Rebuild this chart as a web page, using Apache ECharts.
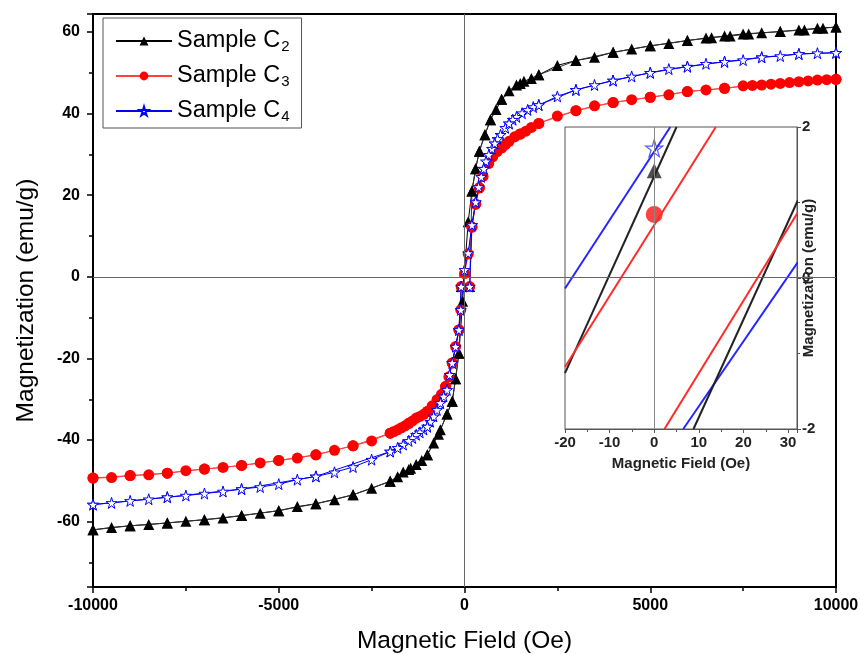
<!DOCTYPE html>
<html><head><meta charset="utf-8">
<script src="https://cdn.jsdelivr.net/npm/echarts@6/dist/echarts.min.js"></script>
<style>html,body{margin:0;padding:0;background:#fff}#c{width:860px;height:654px}</style>
</head><body><div id="c"></div><script>
// ---- main loop data: [field (Oe), magnetization (emu/g)] ----
var c2Down = [[10000,61.2],[9500,60.9],[9000,60.5],[8500,60.1],[8000,59.8],[7500,59.5],[7000,59.0],[6500,58.5],[6000,57.9],[5500,57.2],[5000,56.6],[4500,55.8],[4000,55.0],[3500,53.8],[3000,53.0],[2500,51.8],[2000,49.5],[1800,48.6],[1600,47.9],[1400,47.0],[1200,45.6],[1000,43.5],[850,41.0],[700,38.5],[550,34.8],[400,30.8],[300,26.5],[200,21.0],[100,13.5],[0,1.4],[-50,-6],[-150,-18.7],[-240,-25],[-330,-30.5],[-470,-33.6],[-650,-37.5],[-830,-40.7],[-1000,-43.6],[-1150,-45.0],[-1300,-46.0],[-1450,-46.9],[-1650,-47.8],[-1800,-49.0],[-2000,-50.1],[-2500,-51.8],[-3000,-53.4],[-3500,-54.6],[-4000,-55.6],[-4500,-56.3],[-5000,-57.3],[-5500,-57.9],[-6000,-58.5],[-6500,-59.1],[-7000,-59.5],[-7500,-59.9],[-8000,-60.3],[-8500,-60.7],[-9000,-61.0],[-9500,-61.4],[-10000,-62.0]];
var c2Up = [[-10000,-62.0],[-9000,-61.0],[-8000,-60.3],[-7000,-59.5],[-6000,-58.5],[-5000,-57.3],[-4000,-55.6],[-3000,-53.4],[-2000,-50.1],[-1500,-47.2],[-1000,-43.6],[-700,-38.6],[-470,-33.6],[-330,-30.5],[-240,-25],[-150,-18.7],[-90,-2.4],[140,-2.4],[200,21.0],[300,26.5],[400,30.8],[550,34.8],[700,38.5],[1000,43.5],[1500,47.4],[2000,49.5],[3000,53.0],[4000,55.0],[5000,56.6],[6000,57.9],[6650,58.6],[7150,59.0],[7650,59.5],[8500,60.1],[9150,60.5],[9650,60.9],[10000,61.2]];
var c3Down = [[10000,48.4],[9500,48.2],[9000,47.8],[8500,47.4],[8000,47.0],[7500,46.8],[7000,46.2],[6500,45.8],[6000,45.4],[5500,44.6],[5000,44.0],[4500,43.4],[4000,42.7],[3500,41.9],[3000,40.7],[2500,39.4],[2000,37.6],[1800,36.6],[1650,35.7],[1500,35.0],[1350,34.3],[1200,33.2],[1100,32.4],[1000,31.6],[880,30.7],[760,29.4],[650,27.8],[500,24.6],[400,21.8],[300,17.8],[200,12.2],[100,5.6],[0,0.8],[-100,-8.1],[-150,-13.0],[-240,-17.1],[-330,-21.1],[-420,-24.5],[-510,-26.9],[-620,-28.8],[-735,-30.1],[-870,-31.6],[-1000,-33.0],[-1100,-33.7],[-1200,-34.2],[-1300,-34.6],[-1400,-35.3],[-1500,-35.9],[-1600,-36.5],[-1700,-37.0],[-1800,-37.5],[-1900,-37.9],[-2000,-38.3],[-2500,-40.2],[-3000,-41.4],[-3500,-42.5],[-4000,-43.6],[-4500,-44.4],[-5000,-45.0],[-5500,-45.6],[-6000,-46.2],[-6500,-46.7],[-7000,-47.1],[-7500,-47.5],[-8000,-48.1],[-8500,-48.5],[-9000,-48.7],[-9500,-49.2],[-10000,-49.3]];
var c3Up = [[-10000,-49.3],[-9000,-48.7],[-8000,-48.1],[-7000,-47.1],[-6000,-46.2],[-5000,-45.0],[-4000,-43.6],[-3000,-41.4],[-2000,-38.3],[-1500,-35.9],[-1000,-33.0],[-735,-30.1],[-510,-26.9],[-330,-21.1],[-150,-13.0],[-90,-2.4],[140,-2.4],[200,12.2],[300,17.8],[400,21.8],[650,27.8],[1000,31.6],[1500,35.0],[2000,37.6],[3000,40.7],[4000,42.7],[5000,44.0],[6000,45.4],[7000,46.2],[7750,46.9],[8250,47.2],[8750,47.6],[9250,48.0],[9750,48.3],[10000,48.4]];
var c4Down = [[10000,54.9],[9500,54.8],[9000,54.6],[8500,54.1],[8000,53.8],[7500,53.1],[7000,52.7],[6500,52.2],[6000,51.5],[5500,50.9],[5000,50.0],[4500,49.1],[4000,48.1],[3500,47.0],[3000,45.8],[2500,44.2],[2000,42.1],[1850,41.6],[1700,40.9],[1550,40.1],[1400,39.2],[1300,38.5],[1200,37.6],[1100,36.5],[970,34.8],[890,33.8],[816,32.7],[740,31.4],[655,29.9],[580,28.3],[520,26.5],[450,24.5],[380,22.0],[300,18.3],[200,12.7],[100,5.8],[0,1.7],[-100,-8.1],[-150,-13.0],[-240,-17.1],[-330,-21.1],[-400,-24.0],[-470,-27.7],[-560,-29.3],[-650,-30.9],[-740,-32.6],[-830,-34.2],[-920,-35.5],[-1000,-36.7],[-1100,-37.4],[-1200,-38.1],[-1300,-38.7],[-1400,-39.5],[-1500,-40.2],[-1650,-41.1],[-1800,-41.9],[-2000,-42.8],[-2500,-44.8],[-3000,-46.6],[-3500,-47.9],[-4000,-48.9],[-4500,-49.7],[-5000,-50.8],[-5500,-51.5],[-6000,-52.0],[-6500,-52.6],[-7000,-53.1],[-7500,-53.6],[-8000,-54.0],[-8500,-54.5],[-9000,-54.9],[-9500,-55.4],[-10000,-55.8]];
var c4Up = [[-10000,-55.8],[-8000,-54.0],[-6000,-52.0],[-4000,-48.9],[-2000,-42.8],[-1000,-36.7],[-650,-30.9],[-330,-21.1],[-150,-13.0],[-90,-2.4],[140,-2.4],[200,12.7],[300,18.3],[520,26.5],[816,32.7],[1200,37.6],[2000,42.1],[3000,45.8],[4000,48.1],[5000,50.0],[6000,51.5],[7000,52.7],[8000,53.8],[9000,54.6],[10000,54.9]];

// ---- inset (zoom near origin) ----
var insetC4Upper = [[-20,-0.14],[3.6,2]];
var insetC4Lower = [[6.5,-2],[32.2,0.21]];
var insetC2Upper = [[-20,-1.26],[5.0,2]];
var insetC2Lower = [[8.8,-2],[32.2,1.03]];
var insetC3Upper = [[-20,-1.18],[13.8,2]];
var insetC3Lower = [[2.3,-2],[32.2,0.87]];
var insetRemanence = {C2:[[0,1.42]], C3:[[0,0.84]], C4:[[0,1.72]]};

var seriesNames = ['C2','C3','C4'];
var mainXTicks = {min:-10000, max:10000, interval:5000};
var insetXTicks = {min:-20, max:32, interval:10};

var STAR = 'path://M50,0 L61,35 L98,35 L68,57 L79,91 L50,70 L21,91 L32,57 L2,35 L39,35 Z';
var FONT = 'Arial, "Liberation Sans", sans-serif';

function mainSeries(name, data, color, lineColor, symbol, size, fill, extra){
  var s = {
    name: name, type:'line', xAxisIndex:0, yAxisIndex:0, data:data,
    symbol: symbol, symbolSize: size, showAllSymbol:true,
    lineStyle:{color:lineColor, width:1},
    itemStyle:{color: fill, borderColor: color, borderWidth: fill==='#fff'?1:0},
    animation:false
  };
  if (extra) for (var k in extra) s[k]=extra[k];
  return s;
}
function insetLine(data, color){
  return {type:'line', xAxisIndex:1, yAxisIndex:1, data:data, symbol:'none',
    lineStyle:{color:color, width:2}, clip:true, animation:false, silent:true};
}
function plain(v){ return String(v); }

var chart = echarts.init(document.getElementById('c'), null, {renderer:'canvas'});
chart.setOption({
  backgroundColor:'#fff',
  animation:false,
  legend:{
    data: seriesNames, orient:'vertical', left:103, top:18,
    borderColor:'#555', borderWidth:1, padding:[9,12,4,12], itemGap:8,
    itemWidth:56, itemHeight:11,
    formatter: function(n){ return '{a|Sample C}{s|' + n.slice(1) + '}'; },
    textStyle:{ rich:{
      a:{fontSize:23.5, fontFamily:FONT, color:'#000', lineHeight:26},
      s:{fontSize:15, fontFamily:FONT, color:'#000', lineHeight:26, verticalAlign:'bottom', padding:[12,0,0,1]}
    }}
  },
  grid:[
    {left:93, right:24, top:14, bottom:67, show:true, borderColor:'#000', borderWidth:2, outerBoundsMode:'none', containLabel:false},
    {left:565, right:63, top:127, bottom:225, show:true, borderColor:'#555', borderWidth:1, outerBoundsMode:'none', containLabel:false}
  ],
  xAxis:[
    {type:'value', gridIndex:0, min:mainXTicks.min, max:mainXTicks.max, interval:mainXTicks.interval,
     name:'Magnetic Field (Oe)', nameLocation:'middle', nameGap:42,
     nameTextStyle:{fontSize:24.5, fontFamily:FONT, color:'#000'},
     axisLine:{onZero:false, lineStyle:{color:'#000', width:2}},
     axisTick:{inside:false, length:6, lineStyle:{color:'#000', width:1.5}},
     minorTick:{show:true, splitNumber:2, length:4, lineStyle:{color:'#000', width:1.5}},
     axisLabel:{fontSize:16, fontWeight:'bold', fontFamily:FONT, color:'#000', margin:11, formatter:plain},
     splitLine:{show:false}},
    {type:'value', gridIndex:1, min:insetXTicks.min, max:insetXTicks.max, interval:insetXTicks.interval,
     name:'Magnetic Field (Oe)', nameLocation:'middle', nameGap:27,
     nameTextStyle:{fontSize:15, fontWeight:'bold', fontFamily:FONT, color:'#222'},
     axisLine:{onZero:false, lineStyle:{color:'#555', width:1}},
     axisTick:{length:4, lineStyle:{color:'#555'}},
     minorTick:{show:true, splitNumber:2, length:3, lineStyle:{color:'#555'}},
     axisLabel:{fontSize:15, fontWeight:'bold', fontFamily:FONT, color:'#222', margin:6,
       showMaxLabel:false, formatter:plain},
     splitLine:{show:false}}
  ],
  yAxis:[
    {type:'value', gridIndex:0, min:-76, max:64.4, splitNumber:7,
     name:'Magnetization (emu/g)', nameLocation:'middle', nameGap:54,
     nameTextStyle:{fontSize:24.5, fontFamily:FONT, color:'#000'},
     axisLine:{onZero:false, lineStyle:{color:'#000', width:2}},
     axisTick:{length:6, lineStyle:{color:'#000', width:1.5}},
     minorTick:{show:true, splitNumber:2, length:4, lineStyle:{color:'#000', width:1.5}},
     axisLabel:{fontSize:16, fontWeight:'bold', fontFamily:FONT, color:'#000', margin:13,
       showMinLabel:false, showMaxLabel:false, formatter:plain},
     splitLine:{show:false}},
    {type:'value', gridIndex:1, min:-2, max:2, interval:2, position:'right',
     name:'Magnetization (emu/g)', nameLocation:'middle', nameGap:4, nameRotate:90, nameMoveOverlap:false,
     nameTextStyle:{fontSize:15, fontWeight:'bold', fontFamily:FONT, color:'#222'},
     axisLine:{onZero:false, lineStyle:{color:'#555', width:1}},
     axisTick:{length:4, lineStyle:{color:'#555'}},
     minorTick:{show:true, splitNumber:2, length:3, lineStyle:{color:'#555'}},
     axisLabel:{fontSize:15, fontWeight:'bold', fontFamily:FONT, color:'#222', margin:5, formatter:plain},
     splitLine:{show:false}}
  ],
  series:[
    mainSeries('C2', c2Down, '#000', '#000', 'triangle', 11, '#000', {
      markLine:{silent:true, symbol:'none', label:{show:false},
        lineStyle:{color:'#666', width:1, type:'solid'},
        data:[{xAxis:0},{yAxis:0}]}
    }),
    mainSeries('C2', c2Up, '#000', '#333', 'triangle', 11, '#000'),
    mainSeries('C3', c3Down, '#ff0000', '#ff4040', 'circle', 11, '#ff0000'),
    mainSeries('C3', c3Up, '#ff0000', '#ff4040', 'circle', 11, '#ff0000'),
    mainSeries('C4', c4Down, '#0000ff', '#0000ff', STAR, 11, '#fff'),
    mainSeries('C4', c4Up, '#0000ff', '#0000ff', STAR, 11, '#fff'),
    insetLine(insetC4Upper, '#2626ff'),
    insetLine(insetC4Lower, '#2626ff'),
    insetLine(insetC2Upper, '#222'),
    insetLine(insetC2Lower, '#222'),
    insetLine(insetC3Upper, '#ff2a2a'),
    insetLine(insetC3Lower, '#ff2a2a'),
    {type:'line', xAxisIndex:1, yAxisIndex:1, data:[], symbol:'none', silent:true,
     markLine:{silent:true, symbol:'none', label:{show:false},
       lineStyle:{color:'#888', width:1, type:'solid'}, data:[{xAxis:0}]}},
    {type:'scatter', xAxisIndex:1, yAxisIndex:1, data:insetRemanence.C3, symbol:'circle', symbolSize:17,
     itemStyle:{color:'#ff2020', opacity:0.85}, silent:true},
    {type:'scatter', xAxisIndex:1, yAxisIndex:1, data:insetRemanence.C2, symbol:'triangle', symbolSize:15,
     itemStyle:{color:'#222'}, silent:true},
    {type:'scatter', xAxisIndex:1, yAxisIndex:1, data:insetRemanence.C4, symbol:STAR, symbolSize:17,
     itemStyle:{color:'#fff', borderColor:'#3030ff', borderWidth:1.2}, silent:true}
  ]
});
</script></body></html>
